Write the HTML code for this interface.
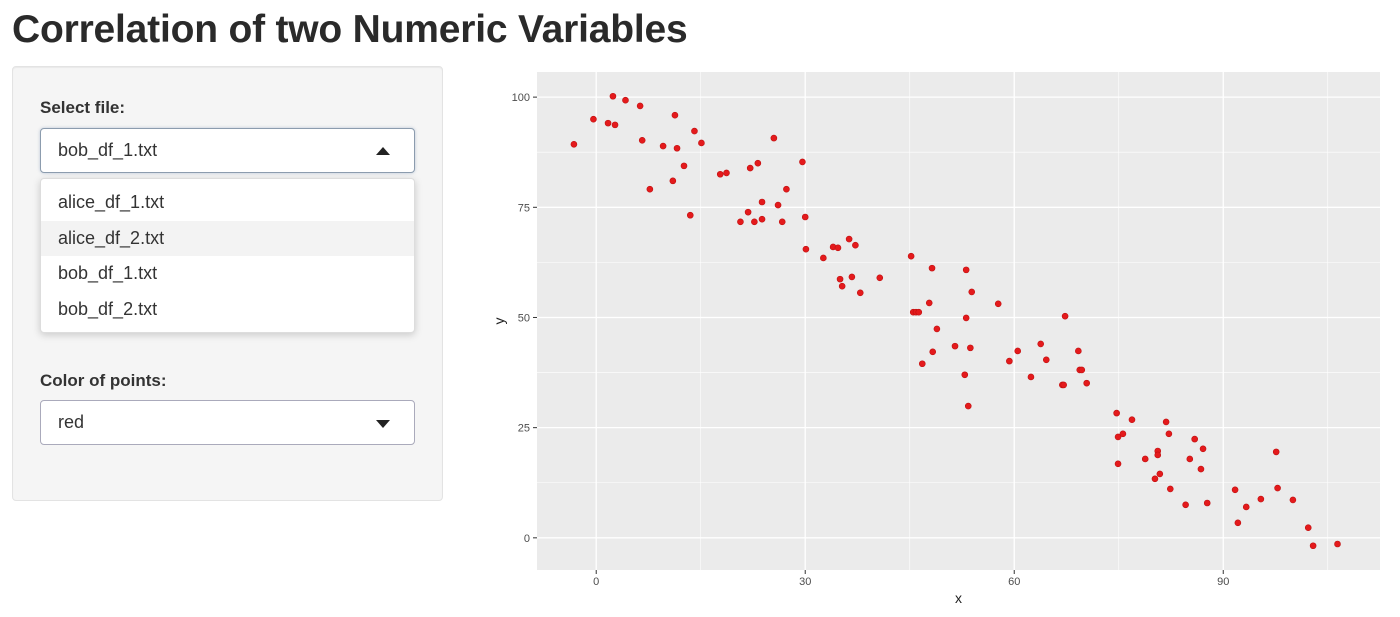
<!DOCTYPE html>
<html><head><meta charset="utf-8"><style>
body{margin:0;width:1400px;height:617px;background:#fff;font-family:"Liberation Sans",sans-serif;color:#333;position:relative;overflow:hidden}
h1{position:absolute;left:12px;top:8px;margin:0;font-size:39px;font-weight:bold;color:#2a2a2a;letter-spacing:-0.2px}
.well{position:absolute;left:12px;top:66px;width:429px;height:433px;background:#f5f5f5;border:1px solid #e3e3e3;border-radius:4px;box-shadow:inset 0 1px 1px rgba(0,0,0,.05)}
.lbl{position:absolute;left:40px;font-size:17px;font-weight:bold;color:#333}
.sel{position:absolute;left:40px;width:375px;height:45px;background:#fff;border:1px solid #ccc;border-radius:4px;box-sizing:border-box;font-size:18px;line-height:43px;padding-left:17px}
.sel .ar{position:absolute;right:24px;top:18px;width:0;height:0;border-left:7px solid transparent;border-right:7px solid transparent}
.dd{position:absolute;left:40px;top:178px;width:375px;height:155px;background:#fff;border-radius:4px;box-shadow:0 2px 8px rgba(0,0,0,.18);border:1px solid #ddd;box-sizing:border-box;padding-top:6px}
.dd div{height:35.5px;line-height:35.5px;font-size:18px;padding-left:17px}
</style></head><body>
<h1>Correlation of two Numeric Variables</h1>
<div class="well"></div>
<div class="lbl" style="top:98px">Select file:</div>
<div class="sel" style="top:128px;border-color:#8c9cae;box-shadow:0 0 3px rgba(100,130,170,.4)">bob_df_1.txt<span class="ar" style="border-bottom:8px solid #222"></span></div>
<div class="dd">
<div>alice_df_1.txt</div>
<div style="background:#f3f3f3">alice_df_2.txt</div>
<div>bob_df_1.txt</div>
<div>bob_df_2.txt</div>
</div>
<div class="lbl" style="top:371px">Color of points:</div>
<div class="sel" style="top:400px;border-color:#aab;">red<span class="ar" style="border-top:8px solid #222;top:19px"></span></div>
<svg id="chart" width="1400" height="617" style="position:absolute;left:0;top:0"></svg>
<script>
const xs=[-3.2,-0.4,1.7,2.4,2.7,4.2,6.3,6.6,7.7,9.6,11.0,11.3,11.6,12.6,13.5,14.1,15.1,17.8,18.7,20.7,21.8,22.1,22.7,23.2,23.8,23.8,25.5,26.1,26.7,27.3,29.6,30.0,30.1,32.6,34.0,34.7,35.0,35.3,36.3,36.7,37.2,37.9,40.7,45.2,45.5,45.9,46.3,46.8,47.8,48.2,48.3,48.9,51.5,52.9,53.1,53.1,53.7,53.9,53.4,57.7,59.3,60.5,62.4,63.8,64.6,66.9,67.1,67.3,69.2,69.4,69.7,70.4,74.7,74.9,74.9,75.6,76.9,78.8,80.2,80.6,80.6,80.9,81.8,82.2,82.4,84.6,85.2,85.9,86.8,87.1,87.7,91.7,92.1,93.3,95.4,97.6,97.8,100.0,102.2,102.9,106.4];
const ys=[89.3,95.0,94.1,100.2,93.7,99.3,98.0,90.2,79.1,88.9,81.0,95.9,88.4,84.4,73.2,92.3,89.6,82.5,82.8,71.7,73.9,83.9,71.7,85.0,76.2,72.3,90.7,75.5,71.7,79.1,85.3,72.8,65.5,63.5,66.0,65.8,58.7,57.1,67.8,59.2,66.4,55.6,59.0,63.9,51.2,51.2,51.2,39.5,53.3,61.2,42.2,47.4,43.5,37.0,60.8,49.9,43.1,55.8,29.9,53.1,40.1,42.4,36.5,44.0,40.4,34.7,34.7,50.3,42.4,38.1,38.1,35.1,28.3,16.8,22.9,23.6,26.8,17.9,13.4,19.7,18.8,14.5,26.3,23.6,11.1,7.5,17.9,22.4,15.6,20.2,7.9,10.9,3.4,7.0,8.8,19.5,11.3,8.6,2.3,-1.8,-1.4];
const xTicks=[0,30,60,90];
const yTicks=[0,25,50,75,100];
const xMinor=[15,45,75,105];
const yMinor=[12.5,37.5,62.5,87.5];
const L=537,R=1380,T=72,B=570,xmin=-8.5,xmax=112.5,ymin=-7.3,ymax=105.7;
const sx=v=>L+(v-xmin)/(xmax-xmin)*(R-L);
const sy=v=>B-(v-ymin)/(ymax-ymin)*(B-T);
const svg=document.getElementById('chart');const NS='http://www.w3.org/2000/svg';
function mk(t,a){const e=document.createElementNS(NS,t);for(const k in a)e.setAttribute(k,a[k]);svg.appendChild(e);return e;}
let e=mk('rect',{x:L,y:T,width:R-L,height:B-T,fill:'#ebebeb'});


xMinor.forEach(v=>{if(sx(v)<R){const g=mk('line',{x1:sx(v),x2:sx(v),y1:T,y2:B,stroke:'#fff','stroke-width':0.6});}});
yMinor.forEach(v=>{const g=mk('line',{x1:L,x2:R,y1:sy(v),y2:sy(v),stroke:'#fff','stroke-width':0.6});});
xTicks.forEach(v=>{const g=mk('line',{x1:sx(v),x2:sx(v),y1:T,y2:B,stroke:'#fff','stroke-width':1.3});
const k=mk('line',{x1:sx(v),x2:sx(v),y1:B,y2:B+4,stroke:'#333'});
const t=mk('text',{x:sx(v),y:B+15,'text-anchor':'middle','font-size':11,fill:'#4d4d4d','font-family':'Liberation Sans, sans-serif'});t.textContent=v;});
yTicks.forEach(v=>{const g=mk('line',{x1:L,x2:R,y1:sy(v),y2:sy(v),stroke:'#fff','stroke-width':1.3});
const k=mk('line',{x1:L-4,x2:L,y1:sy(v),y2:sy(v),stroke:'#333'});
const t=mk('text',{x:L-7,y:sy(v)+4,'text-anchor':'end','font-size':11,fill:'#4d4d4d','font-family':'Liberation Sans, sans-serif'});t.textContent=v;});
xs.forEach((x,i)=>{const c=mk('circle',{cx:sx(x),cy:sy(ys[i]),r:3,fill:'#e41a1c',stroke:'#c01010','stroke-width':0.6});});
let xt=mk('text',{x:(L+R)/2,y:603,'text-anchor':'middle','font-size':14,fill:'#222','font-family':'Liberation Sans, sans-serif'});xt.textContent='x';


let yt=mk('text',{x:504,y:(T+B)/2,'text-anchor':'middle','font-size':14,fill:'#222','font-family':'Liberation Sans, sans-serif',transform:`rotate(-90 504 ${(T+B)/2})`});yt.textContent='y';


</script>
</body></html>
